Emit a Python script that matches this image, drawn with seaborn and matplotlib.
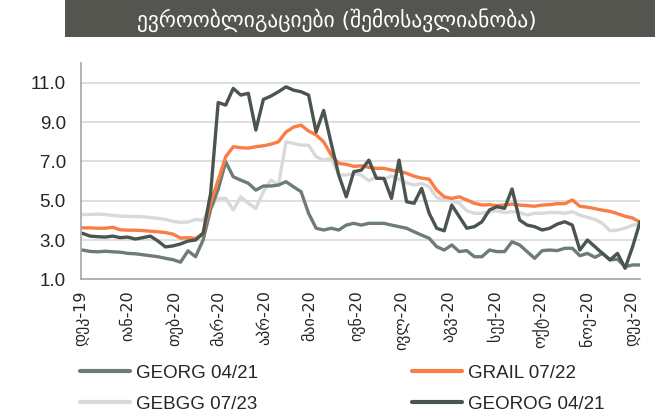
import matplotlib
matplotlib.use("Agg")
from matplotlib import pyplot as plt
from matplotlib.patches import Rectangle
import pandas as pd
import seaborn as sns

title = "ევროობლიგაციები (შემოსავლიანობა)"
month_labels = ["დეკ-19", "იან-20", "თებ-20", "მარ-20", "აპრ-20", "მაი-20", "ივნ-20",
                "ივლ-20", "აგვ-20", "სექ-20", "ოქტ-20", "ნოე-20", "დეკ-20"]
y_ticks = [1.0, 3.0, 5.0, 7.0, 9.0, 11.0]

# yields, read every 5 days from 2 Dec 2019
georg = [2.49, 2.42, 2.40, 2.43, 2.40, 2.38, 2.32, 2.30, 2.25, 2.20, 2.15, 2.07, 2.00, 1.87, 2.45,
         2.15, 3.00, 4.56, 5.58, 6.98, 6.22, 6.05, 5.89, 5.54, 5.75, 5.75, 5.80, 5.97, 5.71, 5.46,
         4.36, 3.60, 3.51, 3.60, 3.51, 3.76, 3.85, 3.76, 3.85, 3.85, 3.85, 3.76, 3.68, 3.60, 3.42,
         3.25, 3.09, 2.66, 2.49, 2.75, 2.41, 2.46, 2.15, 2.15, 2.49, 2.41, 2.41, 2.91, 2.75, 2.41,
         2.07, 2.46, 2.49, 2.46, 2.58, 2.58, 2.20, 2.32, 2.12, 2.32, 1.99, 2.02, 1.64, 1.73, 1.73]
grail = [3.62, 3.62, 3.60, 3.60, 3.65, 3.52, 3.50, 3.50, 3.48, 3.45, 3.42, 3.38, 3.30, 3.10, 3.12,
         3.08, 3.34, 4.90, 6.05, 7.24, 7.75, 7.70, 7.68, 7.75, 7.80, 7.88, 8.00, 8.50, 8.75, 8.85,
         8.55, 8.35, 8.00, 7.33, 6.90, 6.85, 6.75, 6.78, 6.70, 6.65, 6.65, 6.56, 6.50, 6.40, 6.25,
         6.15, 6.10, 5.54, 5.20, 5.12, 5.20, 5.04, 4.87, 4.78, 4.80, 4.75, 4.78, 4.83, 4.78, 4.75,
         4.72, 4.78, 4.80, 4.85, 4.85, 5.04, 4.72, 4.67, 4.60, 4.52, 4.46, 4.34, 4.21, 4.12, 3.90]
gebgg = [4.30, 4.30, 4.32, 4.30, 4.25, 4.22, 4.20, 4.20, 4.18, 4.15, 4.10, 4.05, 3.95, 3.90, 3.92,
         4.05, 4.00, 4.70, 5.12, 5.12, 4.53, 5.20, 4.87, 4.61, 5.46, 6.05, 5.80, 8.00, 7.92, 7.83,
         7.83, 7.24, 7.07, 7.16, 6.31, 6.31, 6.39, 6.31, 6.02, 6.22, 6.09, 6.26, 6.09, 5.92, 5.80,
         5.88, 5.71, 5.17, 5.04, 4.98, 4.87, 4.49, 4.36, 4.36, 4.44, 4.49, 4.40, 4.44, 4.40, 4.27,
         4.36, 4.36, 4.40, 4.40, 4.36, 4.44, 4.27, 4.15, 4.05, 3.85, 3.47, 3.51, 3.60, 3.76, 3.81]
georog = [3.34, 3.20, 3.17, 3.15, 3.20, 3.12, 3.15, 3.05, 3.12, 3.20, 2.95, 2.65, 2.70, 2.80, 2.95,
          3.00, 3.34, 5.38, 10.00, 9.87, 10.72, 10.38, 10.47, 8.60, 10.16, 10.33, 10.55, 10.80, 10.63, 10.55,
          10.38, 8.50, 9.60, 7.92, 6.31, 5.20, 6.48, 6.56, 7.07, 6.14, 6.14, 5.12, 7.07, 4.95, 4.87,
          5.63, 4.36, 3.60, 3.47, 4.78, 4.19, 3.60, 3.68, 3.93, 4.53, 4.70, 4.61, 5.60, 4.02, 3.76,
          3.68, 3.51, 3.60, 3.81, 3.93, 3.76, 2.49, 3.00, 2.66, 2.32, 1.99, 2.32, 1.56, 2.66, 3.94]

series = {"GEORG 04/21": georg, "GRAIL 07/22": grail,
          "GEBGG 07/23": gebgg, "GEOROG 04/21": georog}
colors = {"GEORG 04/21": "#6e7d74", "GRAIL 07/22": "#f97d45",
          "GEBGG 07/23": "#d9d9d9", "GEOROG 04/21": "#4b5550"}
draw_order = ["GEBGG 07/23", "GEORG 04/21", "GRAIL 07/22", "GEOROG 04/21"]
legend_order = ["GEORG 04/21", "GEBGG 07/23", "GRAIL 07/22", "GEOROG 04/21"]

dates = pd.date_range("2019-12-02", periods=len(georg), freq="5D")
df = pd.concat([pd.DataFrame({"date": dates, "value": v, "series": k}) for k, v in series.items()])

sns.set_style("white")
plt.rcParams["font.family"] = ["Liberation Sans", "DejaVu Sans"]

fig = plt.figure(figsize=(6.62, 4.19), dpi=100)
ax = fig.add_axes([0.1224, 0.3334, 0.8446, 0.5156])

sns.lineplot(data=df, x="date", y="value", hue="series", hue_order=draw_order,
             palette=colors, linewidth=2.4, ax=ax, legend=True)

handles, labels = ax.get_legend_handles_labels()
ax.get_legend().remove()
lookup = dict(zip(labels, handles))
leg = fig.legend([lookup[n] for n in legend_order], legend_order, ncol=2,
                 loc="upper left", bbox_to_anchor=(0.095, 0.17), frameon=False,
                 fontsize=13.5, handlelength=2.7, handletextpad=0.3,
                 columnspacing=8.2, labelspacing=0.75)
for line in leg.get_lines():
    line.set_linewidth(3)

ax.set_ylim(1, 12)
ax.set_yticks(y_ticks)
ax.set_yticklabels([f"{t:.1f}" for t in y_ticks], fontsize=13.5)
month_pos = pd.date_range("2019-12-01", periods=len(month_labels), freq="MS")
ax.set_xticks(month_pos)
ax.set_xticklabels(month_labels, rotation=90, fontsize=11.5, family=["DejaVu Sans"])
ax.set_xlim(pd.Timestamp("2019-12-01"), dates[-1])
ax.tick_params(axis="x", length=0, pad=8)
ax.tick_params(axis="y", length=0, pad=11)
ax.grid(axis="y", color="#d9d9d9", linewidth=1.2)
ax.set_xlabel("")
ax.set_ylabel("")
for side in ["top", "right"]:
    ax.spines[side].set_visible(False)
for side in ["left", "bottom"]:
    ax.spines[side].set_color("#a6a6a6")
    ax.spines[side].set_linewidth(1.2)

fig.patches.append(Rectangle((0.098, 0.912), 0.891, 0.088, transform=fig.transFigure,
                             facecolor="#55554f", edgecolor="none"))
fig.text(0.509, 0.953, title, color="white", fontsize=15.5, ha="center", va="center",
         family=["DejaVu Sans"])

fig.savefig("out.png", dpi=100)
